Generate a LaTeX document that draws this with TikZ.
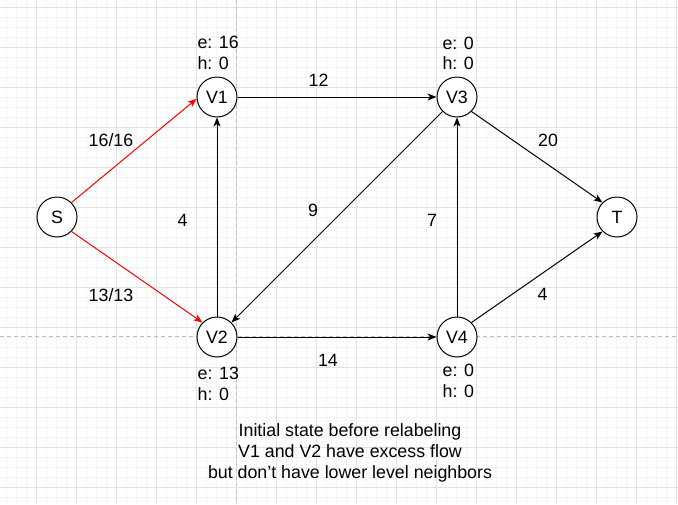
\documentclass[tikz,border=0pt]{standalone}
\usepackage{fontspec}
\setmainfont{Liberation Sans}
\usetikzlibrary{arrows.meta}
\definecolor{gridminor}{HTML}{F4F4F4}
\definecolor{gridmajor}{HTML}{E2E2E2}
\definecolor{pagebrk}{HTML}{BEBEBE}
\begin{document}
\begin{tikzpicture}[x=1pt,y=-1pt,
  vertex/.style={draw, circle, fill=white, minimum size=40pt, inner sep=0pt, line width=1pt, font=\fontsize{17.8}{21}\selectfont},
  lbl/.style={inner sep=0pt, font=\fontsize{17.8}{21}\selectfont},
  infolbl/.style={lbl, anchor=base west},
  caplbl/.style={lbl, anchor=base},
  edge/.style={line width=1pt, -{Stealth[length=9pt,width=7pt,inset=2.5pt]}},
  flow/.style={edge, red}]
\useasboundingbox (0,0) rectangle (678,504);
\fill[white] (0,0) rectangle (678,504);
% grid
\foreach \x in {6.5,16.5,...,676.5} \draw[gridminor, line width=1pt] (\x,0) -- (\x,504);
\foreach \y in {7.5,17.5,...,497.5} \draw[gridminor, line width=1pt] (0,\y) -- (678,\y);
\foreach \x in {36.5,76.5,...,676.5} \draw[gridmajor, line width=1pt] (\x,0) -- (\x,504);
\foreach \y in {7.5,47.5,...,487.5} \draw[gridmajor, line width=1pt] (0,\y) -- (678,\y);
\draw[pagebrk, line width=1pt, dash pattern=on 4pt off 3pt] (236.5,0) -- (236.5,504);
\draw[pagebrk, line width=1pt, dash pattern=on 4pt off 3pt] (0,336.5) -- (678,336.5);
% nodes
\node[vertex] (S)  at (57,217)  {S};
\node[vertex] (V1) at (217,97)  {V1};
\node[vertex] (V2) at (217,337) {V2};
\node[vertex] (V3) at (457,97)  {V3};
\node[vertex] (V4) at (457,337) {V4};
\node[vertex] (T)  at (617,217) {T};
% edges
\draw[flow] (S.45) -- (V1.185);
\draw[flow] (S.-45) -- (V2.135);
\draw[edge] (V1) -- (V3);
\draw[edge] (V2) -- (V1);
\draw[edge] (V3.-135) -- (V2.45);
\draw[edge] (V3.-45) -- (T.135);
\draw[edge] (V2) -- (V4);
\draw[edge] (V4) -- (V3);
\draw[edge] (V4.45) -- (T.-135);
% edge labels
\node[lbl] (l12)   at (318.5,80)  {12};
\node[lbl] (l1616) at (111,140)   {16/16};
\node[lbl] (l1313) at (111,295.5) {13/13};
\node[lbl] (l4a)   at (182.5,220.5) {4};
\node[lbl] (l9)    at (313,210)   {9};
\node[lbl] (l7)    at (432,220)   {7};
\node[lbl] (l20)   at (548,140)   {20};
\node[lbl] (l14)   at (328,360)   {14};
\node[lbl] (l4b)   at (542.5,294.5) {4};
% node info labels
\node[infolbl] (v1e) at (197.3,48)  {e: 16};
\node[infolbl] (v1h) at (197.3,69)  {h: 0};
\node[infolbl] (v3e) at (442.3,49)  {e: 0};
\node[infolbl] (v3h) at (442.3,69)  {h: 0};
\node[infolbl] (v2e) at (197.5,379) {e: 13};
\node[infolbl] (v2h) at (197.5,400) {h: 0};
\node[infolbl] (v4e) at (442.5,376) {e: 0};
\node[infolbl] (v4h) at (442.5,397) {h: 0};
% caption
\node[caplbl] (cap1) at (350,436.5) {Initial state before relabeling};
\node[caplbl] (cap2) at (350,457.5) {V1 and V2 have excess flow};
\node[caplbl] (cap3) at (350,478.5) {but don\char"0027 t have lower level neighbors};
\end{tikzpicture}
\end{document}
